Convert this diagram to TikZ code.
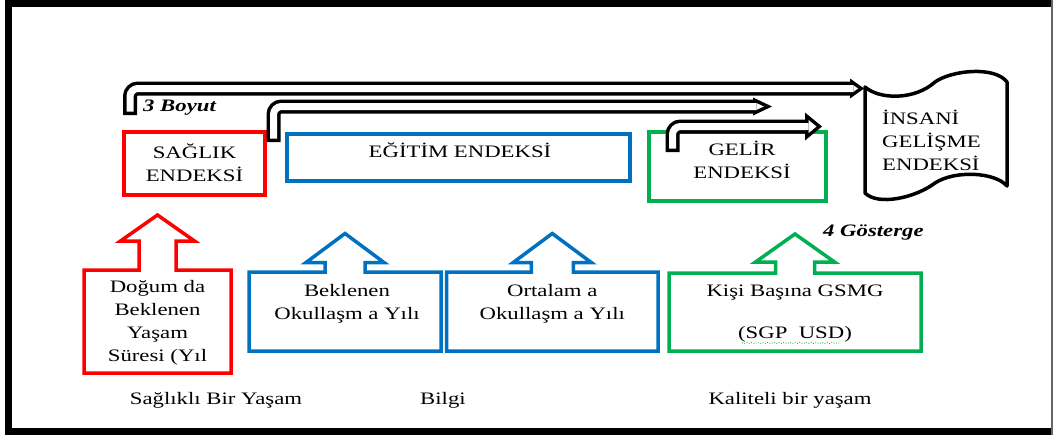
\documentclass[tikz,border=0pt]{standalone}
\usepackage{fontspec}
\setmainfont{Liberation Serif}[FakeStretch=1.3]
\usepackage{tikz}
\usetikzlibrary{calc, positioning, arrows.meta, decorations.pathmorphing}
\definecolor{hdired}{RGB}{255,0,0}
\definecolor{hdiblue}{RGB}{0,112,192}
\definecolor{hdigreen}{RGB}{0,176,80}
\tikzset{
	x = 1pt,
	y = -1pt,
	node distance = 5pt,
	font = \fontsize{17.5}{23}\selectfont,
	index/.style={
		draw,
		rectangle,
		line width=3.5pt,
		inner sep=0pt,
		outer sep=0pt
	},
	indicator/.style={
		rectangle,
		inner sep=0pt,
		outer sep=0pt
	},
	callout/.style={
		line width=3.5pt,
		line join=miter
	},
	boxtext/.style={
		align=center,
		inner sep=0pt
	},
	caption/.style={
		inner sep=0pt
	},
	tag/.style={
		inner sep=0pt,
		font=\fontsize{17.5}{23}\selectfont\bfseries\itshape
	},
	dimension/.style 2 args={
		line width=14pt,
		rounded corners=8pt,
		-{Triangle[length=#1, width=#2, line width=0pt]}
	},
	dimension inner/.style n args={3}{
		white,
		line width=7pt,
		rounded corners=8pt,
		shorten <=3.5pt,
		shorten >=#3,
		-{Triangle[length=#1, width=#2, line width=0pt]}
	}
}

\begin{document}
\begin{tikzpicture}
	\useasboundingbox (0,0) rectangle (1055,437);
	\draw[line width=7pt] (1052,3.5) -- (8.5,3.5) -- (8.5,431.5) -- (1052,431.5);
	\draw[line width=1.2pt, black!60] (1052,0) -- (1052,435);

	\node[index, draw=hdired, minimum width=141pt, minimum height=63pt] (saglik) at (194.5,163.5) {};
	\node[index, draw=hdiblue, minimum width=343pt, minimum height=47pt] (egitim) at (458.5,157.5) {};
	\node[index, draw=hdigreen, minimum width=177pt, minimum height=69pt] (gelir) at (737.5,166.5) {};

	\node[boxtext] (saglik-t) at ([yshift=1pt]saglik.center) {SAĞLIK\\ENDEKSİ};
	\node[boxtext] (egitim-t) at ([xshift=1.5pt, yshift=7.5pt]egitim.center) {EĞİTİM ENDEKSİ};
	\node[boxtext] (gelir-t) at ([xshift=4.5pt, yshift=6.5pt]gelir.center) {GELİR\\ENDEKSİ};

	\draw[line width=3.5pt, line join=round] (865,87) .. controls (880,100) and (915,100) .. (935,82) .. controls (952,70) and (995,66) .. (1007,82) -- (1007,186) .. controls (995,172) and (955,170) .. (935,183) .. controls (915,198) and (878,206) .. (865,193) -- cycle;
	\node[boxtext, align=left, anchor=west] (hdi) at (882,140) {İNSANİ\\GELİŞME\\ENDEKSİ};

	\node[indicator, minimum width=147pt, minimum height=103pt] (dogum) at (157.5,321.5) {};
	\node[indicator, minimum width=192pt, minimum height=79pt] (beklenen) at (345,311.5) {};
	\node[indicator, minimum width=211.5pt, minimum height=79pt, right=5.5pt of beklenen] (ortalama) {};
	\node[indicator, minimum width=252pt, minimum height=78pt] (kisi) at (795,312) {};

	\foreach \n/\c/\nk/\hb/\hh/\tp in {dogum/hdired/18.5/29/37/55, beklenen/hdiblue/20/9.5/39/38.5, ortalama/hdiblue/21/9.5/39/38.5, kisi/hdigreen/19.5/11/39.5/39}
		\draw[callout, \c] (\n.north west) -- ($(\n.north)+(-\nk,0)$) -- ($(\n.north)+(-\nk,-\hb)$) -- ($(\n.north)+(-\hh,-\hb)$) -- ($(\n.north)+(0,-\tp)$) -- ($(\n.north)+(\hh,-\hb)$) -- ($(\n.north)+(\nk,-\hb)$) -- ($(\n.north)+(\nk,0)$) -- (\n.north east) -- (\n.south east) -- (\n.south west) -- cycle;

	\node[boxtext] (dogum-t) at ([yshift=-1pt]dogum.center) {Doğum da\\Beklenen\\Yaşam\\Süresi (Yıl};
	\node[boxtext] (beklenen-t) at ([xshift=2pt, yshift=8pt]beklenen.center) {Beklenen\\Okullaşm a Yılı};
	\node[boxtext] (ortalama-t) at ([yshift=8pt]ortalama.center) {Ortalam a\\Okullaşm a Yılı};
	\node[boxtext] (kisi-t) at ([yshift=-2pt]kisi.center) {Kişi Başına GSMG\\[19pt](SGP\ \ USD)};
	\draw[hdigreen, line width=0.8pt, dotted, decorate, decoration={snake, amplitude=0.7pt, segment length=4pt}] (742,343) -- (840,343);

	\node[caption] (saglikli) at (216,400) {Sağlıklı Bir Yaşam};
	\node[caption] (bilgi) at (443,400) {Bilgi};
	\node[caption] (kaliteli) at (790,400) {Kaliteli bir yaşam};

	\node[tag, anchor=west] (boyut) at (143,108) {3 Boyut};
	\node[tag, anchor=west] (gosterge) at (823,233) {4 Gösterge};

	\coordinate (saglik-a) at (130,115);
	\coordinate (saglik-b) at (273.5,142);
	\coordinate (gelir-a) at (672.5,152);
	\coordinate (hdi-in) at (864,88.5);
	\coordinate (egitim-out) at (772,106.5);
	\coordinate (gelir-out) at (822,126.5);

	\draw[dimension={14pt}{20pt}] (saglik-a) |- (hdi-in);
	\draw[dimension inner={4.5pt}{6.4pt}{6pt}] (saglik-a) |- (hdi-in);
	\draw[dimension={19pt}{18pt}] (saglik-b) |- (egitim-out);
	\draw[dimension inner={7.3pt}{6.9pt}{8.2pt}] (saglik-b) |- (egitim-out);
	\draw[dimension={17pt}{28pt}] (gelir-a) |- (gelir-out);
	\draw[dimension inner={8pt}{13.2pt}{5.5pt}] (gelir-a) |- (gelir-out);
\end{tikzpicture}
\end{document}
